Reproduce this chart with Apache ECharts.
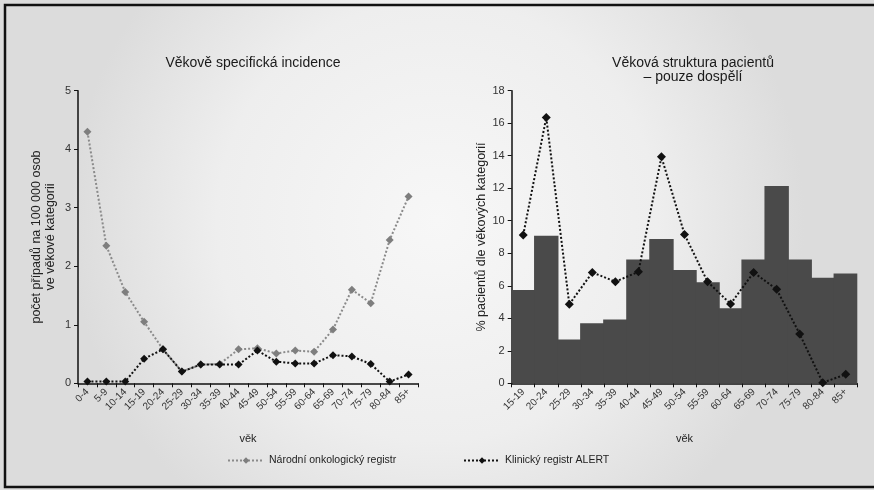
<!DOCTYPE html>
<html>
<head>
<meta charset="utf-8">
<script src="https://cdn.jsdelivr.net/npm/echarts@6/dist/echarts.min.js"></script>
<style>
  html, body { margin: 0; padding: 0; background: #e6e6e6; }
  #chart { width: 874px; height: 490px; }
</style>
</head>
<body>
<div id="chart"></div>
<script>
// Age groups for the incidence panel (all ages)
const ageGroupsAll = ['0-4','5-9','10-14','15-19','20-24','25-29','30-34','35-39','40-44',
  '45-49','50-54','55-59','60-64','65-69','70-74','75-79','80-84','85+'];
// Cases per 100 000 persons in the age group
const incidenceNational = [4.30,2.35,1.56,1.05,0.58,0.20,0.32,0.33,0.58,0.60,0.51,0.56,0.54,0.92,1.60,1.37,2.45,3.19];
const incidenceAlert    = [0.03,0.03,0.03,0.42,0.58,0.20,0.32,0.32,0.32,0.56,0.37,0.34,0.34,0.48,0.46,0.33,0.03,0.15];

// Age groups for the adult patient structure panel
const ageGroupsAdult = ['15-19','20-24','25-29','30-34','35-39','40-44','45-49','50-54',
  '55-59','60-64','65-69','70-74','75-79','80-84','85+'];
// Share of patients per age group (%)
const adultShareBars = [5.74,9.08,2.70,3.69,3.93,7.62,8.87,6.97,6.21,4.61,7.62,12.13,7.62,6.50,6.76];
const adultShareAlert = [9.12,16.35,4.86,6.82,6.25,6.86,13.93,9.16,6.25,4.88,6.82,5.78,3.03,0.04,0.55];

const leftYTicks = { min: 0, max: 5, interval: 1 };
const rightYTicks = { min: 0, max: 18, interval: 2 };

const NAME_NATIONAL = 'Národní onkologický registr';
const NAME_ALERT = 'Klinický registr ALERT';

const FONT = '"Liberation Sans", Arial, sans-serif';
const BAR_COLOR = '#4a4a4a';

const chart = echarts.init(document.getElementById('chart'), null, { renderer: 'canvas' });

function xAxisCfg(gridIndex, data) {
  return {
    type: 'category', gridIndex, data,
    boundaryGap: true,
    name: 'věk', nameLocation: 'middle', nameGap: 50,
    nameTextStyle: { fontFamily: FONT, fontSize: 11, color: '#222' },
    axisLine: { lineStyle: { color: '#111', width: 1.5 } },
    axisTick: { show: true, length: 4, alignWithLabel: false, lineStyle: { color: '#111' } },
    splitLine: { show: false },
    splitArea: { show: false },
    axisLabel: { interval: 0, rotate: 45, fontFamily: FONT, fontSize: 10, color: '#333', margin: 7 }
  };
}

function yAxisCfg(gridIndex, ticks, name, gap) {
  return {
    type: 'value', gridIndex,
    min: ticks.min, max: ticks.max, interval: ticks.interval,
    name, nameLocation: 'middle', nameGap: gap,
    nameTextStyle: { fontFamily: FONT, fontSize: 12.5, color: '#222', lineHeight: 14 },
    axisLine: { show: true, lineStyle: { color: '#111', width: 1.5 } },
    axisTick: { show: true, length: 4, lineStyle: { color: '#111' } },
    splitLine: { show: false },
    axisLabel: { fontFamily: FONT, fontSize: 11, color: '#333', margin: 7 }
  };
}

const option = {
  animation: false,
  backgroundColor: {
    type: 'radial', x: 0.5, y: 0.45, r: 0.75,
    colorStops: [
      { offset: 0, color: '#f7f7f7' },
      { offset: 0.6, color: '#eeeeee' },
      { offset: 1, color: '#dcdcdc' }
    ]
  },
  graphic: [
    {
      type: 'rect', silent: true, z: 100,
      shape: { x: 5, y: 5, width: 880, height: 482 },
      style: { fill: 'none', stroke: '#111', lineWidth: 2.5 }
    }
  ],
  title: [
    {
      text: 'Věkově specifická incidence',
      left: 248, top: 51, textAlign: 'center',
      textStyle: { fontFamily: FONT, fontSize: 14, fontWeight: 'normal', color: '#1a1a1a' }
    },
    {
      text: 'Věková struktura pacientů\n– pouze dospělí',
      left: 688, top: 51, textAlign: 'center',
      textStyle: { fontFamily: FONT, fontSize: 14, fontWeight: 'normal', color: '#1a1a1a', lineHeight: 14 }
    }
  ],
  legend: [
    {
      data: [NAME_NATIONAL],
      left: 222, top: 450,
      itemWidth: 36, itemHeight: 8,
      textStyle: { fontFamily: FONT, fontSize: 10.5, color: '#222' }
    },
    {
      data: [NAME_ALERT],
      left: 458, top: 450,
      itemWidth: 36, itemHeight: 8,
      textStyle: { fontFamily: FONT, fontSize: 10.5, color: '#222' }
    }
  ],
  grid: [
    { left: 78, top: 90.7, width: 340, height: 292.6 },
    { left: 511.7, top: 90.7, width: 345.6, height: 292.6 }
  ],
  xAxis: [xAxisCfg(0, ageGroupsAll), xAxisCfg(1, ageGroupsAdult)],
  yAxis: [
    yAxisCfg(0, leftYTicks, 'počet případů na 100 000 osob\nve věkové kategorii', 20),
    yAxisCfg(1, rightYTicks, '% pacientů dle věkových kategorií', 20)
  ],
  series: [
    {
      name: NAME_NATIONAL, type: 'line', xAxisIndex: 0, yAxisIndex: 0,
      data: incidenceNational,
      symbol: 'diamond', symbolSize: 8,
      itemStyle: { color: '#7e7e7e' },
      lineStyle: { color: '#8a8a8a', width: 2, type: [2, 2] },
      z: 3
    },
    {
      name: NAME_ALERT, type: 'line', xAxisIndex: 0, yAxisIndex: 0,
      data: incidenceAlert,
      symbol: 'diamond', symbolSize: 8,
      itemStyle: { color: '#111' },
      lineStyle: { color: '#111', width: 2, type: [2, 2] },
      z: 4
    },
    {
      // Histogram of the age structure, adjacent columns without gaps
      name: 'Podíl pacientů', type: 'bar', xAxisIndex: 1, yAxisIndex: 1,
      data: adultShareBars,
      barWidth: '106%',
      itemStyle: { color: BAR_COLOR, borderWidth: 0 },
      z: 2
    },
    {
      name: NAME_ALERT, type: 'line', xAxisIndex: 1, yAxisIndex: 1,
      data: adultShareAlert,
      symbol: 'diamond', symbolSize: 9,
      itemStyle: { color: '#111' },
      lineStyle: { color: '#111', width: 2, type: [2, 2] },
      z: 4
    }
  ]
};

chart.setOption(option);
</script>
</body>
</html>
